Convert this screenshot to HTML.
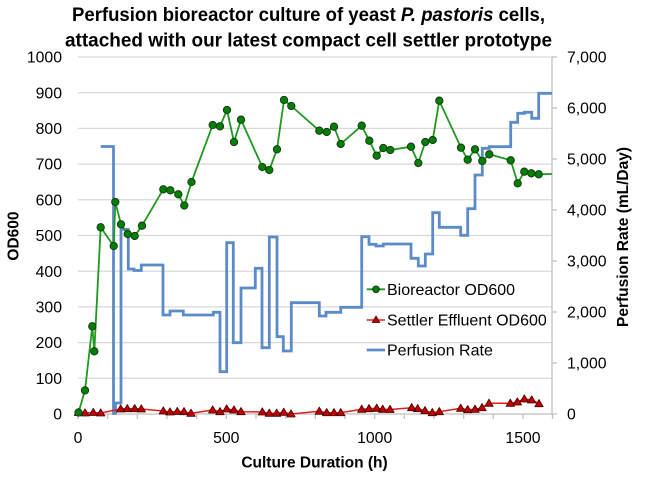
<!DOCTYPE html>
<html>
<head>
<meta charset="utf-8">
<style>
html,body{margin:0;padding:0;background:#fff;}
svg{display:block;}
text{font-family:"Liberation Sans",Arial,sans-serif;fill:#000;}
</style>
</head>
<body>
<svg width="645" height="479" viewBox="0 0 645 479" xmlns="http://www.w3.org/2000/svg">
<rect x="0" y="0" width="645" height="479" fill="#fff"/>

<!-- Title -->
<text x="308.5" y="21" font-size="19" font-weight="bold" text-anchor="middle" textLength="473" lengthAdjust="spacingAndGlyphs">Perfusion bioreactor culture of yeast <tspan font-style="italic">P. pastoris</tspan> cells,</text>
<text x="308.5" y="46.5" font-size="19" font-weight="bold" text-anchor="middle" textLength="487" lengthAdjust="spacingAndGlyphs">attached with our latest compact cell settler prototype</text>

<!-- gridlines -->
<g stroke="#d9d9d9" stroke-width="1.25">
<line x1="78" y1="57" x2="552" y2="57"/>
<line x1="78" y1="92.7" x2="552" y2="92.7"/>
<line x1="78" y1="128.4" x2="552" y2="128.4"/>
<line x1="78" y1="164.1" x2="552" y2="164.1"/>
<line x1="78" y1="199.8" x2="552" y2="199.8"/>
<line x1="78" y1="235.5" x2="552" y2="235.5"/>
<line x1="78" y1="271.2" x2="552" y2="271.2"/>
<line x1="78" y1="306.9" x2="552" y2="306.9"/>
<line x1="78" y1="342.6" x2="552" y2="342.6"/>
<line x1="78" y1="378.3" x2="552" y2="378.3"/>
</g>

<!-- axes -->
<g stroke="#bfbfbf" stroke-width="1.25">
<line x1="78" y1="414" x2="552" y2="414"/>
<line x1="552" y1="57" x2="552" y2="414"/>
<!-- x ticks -->
<line x1="78" y1="414" x2="78" y2="419"/>
<line x1="107.7" y1="414" x2="107.7" y2="419"/>
<line x1="137.3" y1="414" x2="137.3" y2="419"/>
<line x1="167" y1="414" x2="167" y2="419"/>
<line x1="196.7" y1="414" x2="196.7" y2="419"/>
<line x1="226.3" y1="414" x2="226.3" y2="419"/>
<line x1="256" y1="414" x2="256" y2="419"/>
<line x1="285.7" y1="414" x2="285.7" y2="419"/>
<line x1="315.3" y1="414" x2="315.3" y2="419"/>
<line x1="345" y1="414" x2="345" y2="419"/>
<line x1="374.7" y1="414" x2="374.7" y2="419"/>
<line x1="404.3" y1="414" x2="404.3" y2="419"/>
<line x1="434" y1="414" x2="434" y2="419"/>
<line x1="463.7" y1="414" x2="463.7" y2="419"/>
<line x1="493.3" y1="414" x2="493.3" y2="419"/>
<line x1="523" y1="414" x2="523" y2="419"/>
<line x1="552.5" y1="414" x2="552.5" y2="419"/>
<!-- right ticks -->
<line x1="552" y1="57" x2="557" y2="57"/>
<line x1="552" y1="108" x2="557" y2="108"/>
<line x1="552" y1="159" x2="557" y2="159"/>
<line x1="552" y1="210" x2="557" y2="210"/>
<line x1="552" y1="261" x2="557" y2="261"/>
<line x1="552" y1="312" x2="557" y2="312"/>
<line x1="552" y1="363" x2="557" y2="363"/>
<line x1="552" y1="414" x2="557" y2="414"/>
</g>

<!-- left y labels -->
<g font-size="15.8" text-anchor="end">
<text x="62" y="62.6">1000</text>
<text x="62" y="98.3">900</text>
<text x="62" y="134">800</text>
<text x="62" y="169.7">700</text>
<text x="62" y="205.4">600</text>
<text x="62" y="241.1">500</text>
<text x="62" y="276.8">400</text>
<text x="62" y="312.5">300</text>
<text x="62" y="348.2">200</text>
<text x="62" y="383.9">100</text>
<text x="62" y="419.6">0</text>
</g>

<!-- right y labels -->
<g font-size="15.8" text-anchor="start">
<text x="567" y="62.6">7,000</text>
<text x="567" y="113.6">6,000</text>
<text x="567" y="164.6">5,000</text>
<text x="567" y="215.6">4,000</text>
<text x="567" y="266.6">3,000</text>
<text x="567" y="317.6">2,000</text>
<text x="567" y="368.6">1,000</text>
<text x="567" y="419.6">0</text>
</g>

<!-- x labels -->
<g font-size="15.8" text-anchor="middle">
<text x="78" y="443">0</text>
<text x="226.3" y="443">500</text>
<text x="374.7" y="443">1000</text>
<text x="523" y="443">1500</text>
</g>

<!-- axis titles -->
<text x="314.5" y="467.5" font-size="15.5" font-weight="bold" text-anchor="middle">Culture Duration (h)</text>
<text transform="translate(18.5,236) rotate(-90)" font-size="15.5" font-weight="bold" text-anchor="middle">OD600</text>
<text transform="translate(628,237) rotate(-90)" font-size="15.5" font-weight="bold" text-anchor="middle">Perfusion Rate (mL/Day)</text>

<!-- Perfusion rate (blue) -->
<path fill="none" stroke="#5b8bc9" stroke-width="2.8" stroke-linejoin="miter" d="M100.7,146.5 H113.5 V413.5 H115.5 V403 H121 V229.3 H128.3 V269 H134 V270.5 H141.3 V265 H163 V315 H170 V311 H183.3 V315 H213.3 V312.3 H220 V371.7 H226.7 V242.7 H233.3 V342.7 H241 V288 H255.3 V268.3 H262 V347.7 H269.3 V237 H277 V336.7 H283.3 V351 H291.3 V302.7 H319.3 V316 H326 V312.3 H340.7 V307.3 H361.7 V236.7 H369 V244.3 H376 V246 H383.3 V244 H411 V258.3 H418.3 V266 H425.3 V254 H432.7 V212.7 H439.3 V227.3 H460.7 V235.3 H467.7 V208.7 H475 V175 H482.3 V148.3 H489.3 V146.7 H510.7 V122.3 H517.7 V113.3 H524.3 V112.3 H531.7 V118.3 H538.7 V93.3 H552"/>

<!-- Settler effluent (red) -->
<polyline fill="none" stroke="#e02020" stroke-width="1.5" points="78.5,412.5 85,413 93.3,412.5 100.7,413 120.7,409 127.3,408.7 134.7,408.7 141.3,409 163.3,411 170,412 177.3,411.5 184,411.7 191,413.3 212.7,410 220,411.7 226.7,409 234,410 241,411.7 262.3,412 269.3,413.3 276.7,413.3 283.7,412.3 291,414 319.3,411.3 326.7,412.7 334,412.7 340.7,412.7 361.7,409.3 369,408.7 376.7,408.3 382.7,409.3 390,409.5 411.7,407.7 417.7,408.7 425,410.7 432.3,412.7 439.3,411.7 460.7,408.3 467.7,409.7 475,409.3 482,407.7 489,403.3 510.3,403.3 517.3,402 524.3,399 531.7,400 539,403.7"/>
<path fill="#c00000" stroke="#4a0000" stroke-width="0.8" stroke-linejoin="round" d="
M78.5,408.3 l4.2,7.2 h-8.4z M85,408.8 l4.2,7.2 h-8.4z M93.3,408.3 l4.2,7.2 h-8.4z M100.7,408.8 l4.2,7.2 h-8.4z
M120.7,404.8 l4.2,7.2 h-8.4z M127.3,404.5 l4.2,7.2 h-8.4z M134.7,404.5 l4.2,7.2 h-8.4z M141.3,404.8 l4.2,7.2 h-8.4z
M163.3,406.8 l4.2,7.2 h-8.4z M170,407.8 l4.2,7.2 h-8.4z M177.3,407.3 l4.2,7.2 h-8.4z M184,407.5 l4.2,7.2 h-8.4z M191,409.1 l4.2,7.2 h-8.4z
M212.7,405.8 l4.2,7.2 h-8.4z M220,407.5 l4.2,7.2 h-8.4z M226.7,404.8 l4.2,7.2 h-8.4z M234,405.8 l4.2,7.2 h-8.4z M241,407.5 l4.2,7.2 h-8.4z
M262.3,407.8 l4.2,7.2 h-8.4z M269.3,409.1 l4.2,7.2 h-8.4z M276.7,409.1 l4.2,7.2 h-8.4z M283.7,408.1 l4.2,7.2 h-8.4z M291,409.8 l4.2,7.2 h-8.4z
M319.3,407.1 l4.2,7.2 h-8.4z M326.7,408.5 l4.2,7.2 h-8.4z M334,408.5 l4.2,7.2 h-8.4z M340.7,408.5 l4.2,7.2 h-8.4z
M361.7,405.1 l4.2,7.2 h-8.4z M369,404.5 l4.2,7.2 h-8.4z M376.7,404.1 l4.2,7.2 h-8.4z M382.7,405.1 l4.2,7.2 h-8.4z M390,405.3 l4.2,7.2 h-8.4z
M411.7,403.5 l4.2,7.2 h-8.4z M417.7,404.5 l4.2,7.2 h-8.4z M425,406.5 l4.2,7.2 h-8.4z M432.3,408.5 l4.2,7.2 h-8.4z M439.3,407.5 l4.2,7.2 h-8.4z
M460.7,404.1 l4.2,7.2 h-8.4z M467.7,405.5 l4.2,7.2 h-8.4z M475,405.1 l4.2,7.2 h-8.4z M482,403.5 l4.2,7.2 h-8.4z M489,399.1 l4.2,7.2 h-8.4z
M510.3,399.1 l4.2,7.2 h-8.4z M517.3,397.8 l4.2,7.2 h-8.4z M524.3,394.8 l4.2,7.2 h-8.4z M531.7,395.8 l4.2,7.2 h-8.4z M539,399.5 l4.2,7.2 h-8.4z"/>

<!-- Bioreactor OD600 (green) -->
<polyline fill="none" stroke="#1f9a1f" stroke-width="1.8" stroke-linejoin="round" points="78.5,412.5 85,390.4 92.3,326.3 94.3,351.3 100.7,227.3 113.7,246 115.3,202 121,224.3 127.7,234 134.7,236 142,225.7 163.3,189.3 170.3,190.3 178.3,194.3 184.3,205.5 191.5,182 212.7,125 220,126.3 227,110 234,142 241,119.7 262.3,167 269.3,170 277,149.3 284,100 291.3,106 319.3,130.7 326.7,132 334,126.7 340.7,144 361.7,125.7 369.3,140.7 376.7,155.7 383.3,148 390.3,150 411,146.7 418.3,163 425.3,142 432.7,140 439.3,100.7 461,147.7 467.7,159.7 475,149.3 482.3,161 489.3,154.3 510.7,160.3 517.7,183.3 524.3,171.7 531.3,173.3 538.7,174.3 552,174"/>
<g fill="#008000" stroke="#1a331a" stroke-width="0.9">
<circle cx="78.5" cy="412.5" r="3.7"/>
<circle cx="85" cy="390.4" r="3.7"/>
<circle cx="92.3" cy="326.3" r="3.7"/>
<circle cx="94.3" cy="351.3" r="3.7"/>
<circle cx="100.7" cy="227.3" r="3.7"/>
<circle cx="113.7" cy="246" r="3.7"/>
<circle cx="115.3" cy="202" r="3.7"/>
<circle cx="121" cy="224.3" r="3.7"/>
<circle cx="127.7" cy="234" r="3.7"/>
<circle cx="134.7" cy="236" r="3.7"/>
<circle cx="142" cy="225.7" r="3.7"/>
<circle cx="163.3" cy="189.3" r="3.7"/>
<circle cx="170.3" cy="190.3" r="3.7"/>
<circle cx="178.3" cy="194.3" r="3.7"/>
<circle cx="184.3" cy="205.5" r="3.7"/>
<circle cx="191.5" cy="182" r="3.7"/>
<circle cx="212.7" cy="125" r="3.7"/>
<circle cx="220" cy="126.3" r="3.7"/>
<circle cx="227" cy="110" r="3.7"/>
<circle cx="234" cy="142" r="3.7"/>
<circle cx="241" cy="119.7" r="3.7"/>
<circle cx="262.3" cy="167" r="3.7"/>
<circle cx="269.3" cy="170" r="3.7"/>
<circle cx="277" cy="149.3" r="3.7"/>
<circle cx="284" cy="100" r="3.7"/>
<circle cx="291.3" cy="106" r="3.7"/>
<circle cx="319.3" cy="130.7" r="3.7"/>
<circle cx="326.7" cy="132" r="3.7"/>
<circle cx="334" cy="126.7" r="3.7"/>
<circle cx="340.7" cy="144" r="3.7"/>
<circle cx="361.7" cy="125.7" r="3.7"/>
<circle cx="369.3" cy="140.7" r="3.7"/>
<circle cx="376.7" cy="155.7" r="3.7"/>
<circle cx="383.3" cy="148" r="3.7"/>
<circle cx="390.3" cy="150" r="3.7"/>
<circle cx="411" cy="146.7" r="3.7"/>
<circle cx="418.3" cy="163" r="3.7"/>
<circle cx="425.3" cy="142" r="3.7"/>
<circle cx="432.7" cy="140" r="3.7"/>
<circle cx="439.3" cy="100.7" r="3.7"/>
<circle cx="461" cy="147.7" r="3.7"/>
<circle cx="467.7" cy="159.7" r="3.7"/>
<circle cx="475" cy="149.3" r="3.7"/>
<circle cx="482.3" cy="161" r="3.7"/>
<circle cx="489.3" cy="154.3" r="3.7"/>
<circle cx="510.7" cy="160.3" r="3.7"/>
<circle cx="517.7" cy="183.3" r="3.7"/>
<circle cx="524.3" cy="171.7" r="3.7"/>
<circle cx="531.3" cy="173.3" r="3.7"/>
<circle cx="538.7" cy="174.3" r="3.7"/>
</g>

<!-- Legend -->
<line x1="366.7" y1="289.3" x2="385" y2="289.3" stroke="#1f9a1f" stroke-width="1.8"/>
<circle cx="376" cy="289.3" r="3.4" fill="#008000" stroke="#1a331a" stroke-width="0.9"/>
<text x="387" y="295" font-size="16">Bioreactor OD600</text>

<line x1="366.7" y1="320" x2="385" y2="320" stroke="#e02020" stroke-width="1.5"/>
<path d="M376,316 l3.8,6.5 h-7.6z" fill="#c00000" stroke="#4a0000" stroke-width="0.8"/>
<text x="387" y="325.7" font-size="16">Settler Effluent OD600</text>

<line x1="366.7" y1="350" x2="385" y2="350" stroke="#5b8bc9" stroke-width="2.8"/>
<text x="387" y="355.7" font-size="16">Perfusion Rate</text>
</svg>
</body>
</html>
